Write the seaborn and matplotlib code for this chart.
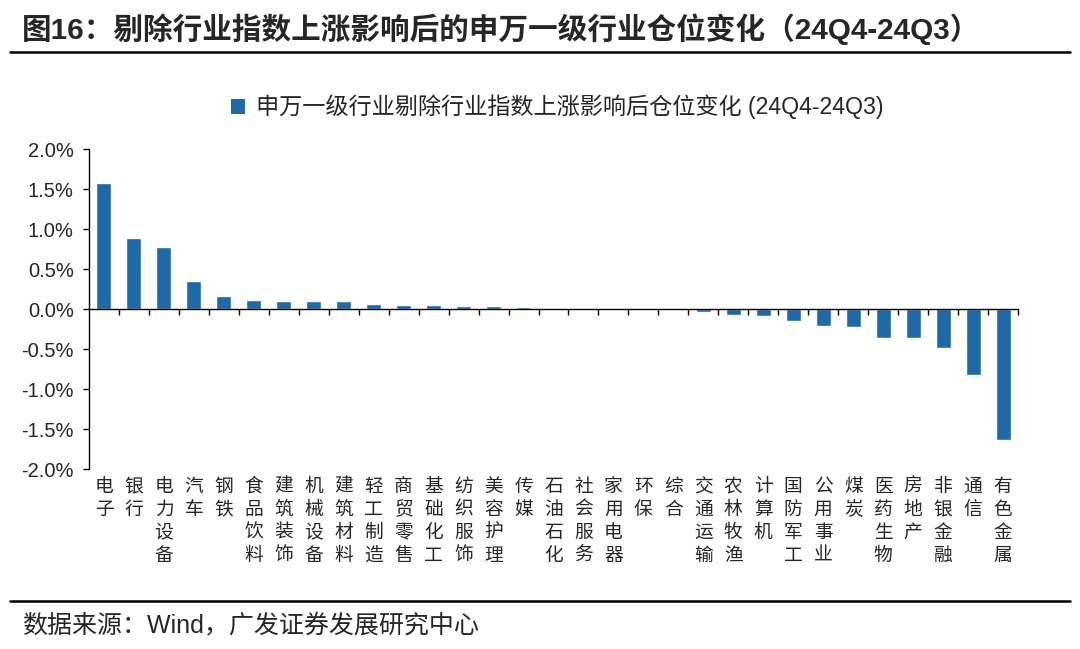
import matplotlib
matplotlib.use("Agg")
import matplotlib.pyplot as plt
from matplotlib.patches import Patch
from matplotlib.ticker import FuncFormatter, FixedLocator
import seaborn as sns
import pandas as pd

categories = ["电子", "银行", "电力设备", "汽车", "钢铁", "食品饮料", "建筑装饰", "机械设备",
              "建筑材料", "轻工制造", "商贸零售", "基础化工", "纺织服饰", "美容护理", "传媒",
              "石油石化", "社会服务", "家用电器", "环保", "综合", "交通运输", "农林牧渔",
              "计算机", "国防军工", "公用事业", "煤炭", "医药生物", "房地产", "非银金融",
              "通信", "有色金属"]
values = [1.57, 0.89, 0.775, 0.35, 0.16, 0.115, 0.10, 0.095, 0.095, 0.066, 0.055, 0.055,
          0.04, 0.04, 0.025, 0.015, 0.01, 0.003, 0.0, 0.0, -0.04, -0.07, -0.09, -0.155,
          -0.21, -0.23, -0.36, -0.36, -0.49, -0.83, -1.64]
yticks = [-2.0, -1.5, -1.0, -0.5, 0.0, 0.5, 1.0, 1.5, 2.0]
series_name = "申万一级行业剔除行业指数上涨影响后仓位变化 (24Q4-24Q3)"
title = "图16：剔除行业指数上涨影响后的申万一级行业仓位变化（24Q4-24Q3）"
source = "数据来源：Wind，广发证券发展研究中心"

sns.set_theme(style="white")
plt.rcParams["font.family"] = ["Liberation Sans", "Noto Sans CJK SC", "DejaVu Sans"]
plt.rcParams["axes.unicode_minus"] = False

color = "#1f69a6"
df = pd.DataFrame({"cat": categories, "val": values})

fig = plt.figure(figsize=(10.8, 6.49), dpi=100)
ax = fig.add_axes([0.0824, 0.2773, 0.8602, 0.4931])
sns.barplot(data=df, x="cat", y="val", color=color, width=0.5, ax=ax, saturation=1)

ax.set_xlim(-0.5, len(categories) - 0.5)
ax.set_ylim(-2.0, 2.0)
ax.set_yticks(yticks)
ax.yaxis.set_major_formatter(FuncFormatter(lambda v, p: f"{v:.1f}%"))
ax.tick_params(axis="y", direction="out", length=4, width=1, color="black",
               labelsize=14.5, pad=7, left=True)
ax.set_xlabel("")
ax.set_ylabel("")

for s in ["top", "right"]:
    ax.spines[s].set_visible(False)
ax.spines["left"].set_color("black")
ax.spines["left"].set_linewidth(1)
ax.spines["bottom"].set_position(("data", 0))
ax.spines["bottom"].set_color("black")
ax.spines["bottom"].set_linewidth(1)

# tick marks at category boundaries on the zero line
ax.set_xticks(range(len(categories)))
ax.set_xticklabels([])
ax.tick_params(axis="x", which="major", length=0)
ax.xaxis.set_minor_locator(FixedLocator([i + 0.5 for i in range(len(categories))]))
ax.tick_params(axis="x", which="minor", direction="out", length=4, width=1,
               color="black", bottom=True)

# category labels at the bottom of the axes
sec = ax.secondary_xaxis("bottom")
sec.set_xticks(range(len(categories)))
sec.set_xticklabels(["\n".join(c) for c in categories], fontsize=13.5,
                    linespacing=1.12, va="top",
                    family=["Noto Sans CJK SC", "DejaVu Sans"])
sec.tick_params(length=0, pad=5)
sec.spines["bottom"].set_visible(False)

ax.grid(False)

fig.legend(handles=[Patch(facecolor=color, edgecolor="none", label=series_name)],
           loc="center", bbox_to_anchor=(0.516, 1 - 107 / 649), frameon=False,
           handlelength=0.6, handleheight=0.6, handletextpad=0.5,
           prop={"family": ["Liberation Sans", "Noto Sans CJK SC"], "size": 16.7})

fig.text(0.02, 1 - 29 / 649, title, fontsize=21.3, fontweight="bold", va="center", ha="left",
         family=["Liberation Sans", "Noto Sans CJK SC"])
fig.add_artist(plt.Line2D([0.009, 0.991], [1 - 52 / 649] * 2, color="black", lw=1.8,
                          transform=fig.transFigure))
fig.add_artist(plt.Line2D([0.009, 0.991], [1 - 601 / 649] * 2, color="black", lw=1.8,
                          transform=fig.transFigure))
fig.text(0.02, 1 - 625 / 649, source, fontsize=18, va="center", ha="left",
         family=["Liberation Sans", "Noto Sans CJK SC"])

fig.savefig("out.png", dpi=100)
